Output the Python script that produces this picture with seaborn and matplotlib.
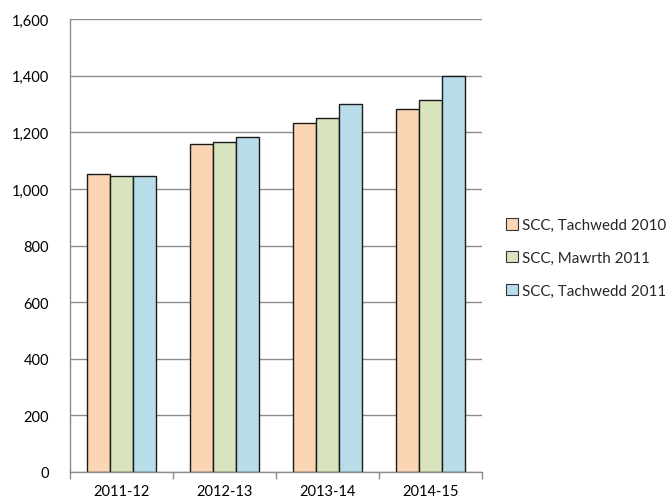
import matplotlib
matplotlib.use("Agg")
import matplotlib.pyplot as plt
import seaborn as sns
import pandas as pd
from matplotlib.ticker import FuncFormatter, FixedLocator

categories = ["2011-12", "2012-13", "2013-14", "2014-15"]
series_names = ["SCC, Tachwedd 2010", "SCC, Mawrth 2011", "SCC, Tachwedd 2011"]
scc_nov2010 = [1052, 1159, 1233, 1283]
scc_mar2011 = [1047, 1166, 1250, 1314]
scc_nov2011 = [1044, 1183, 1300, 1398]
colors = ["#FCD5B5", "#D7E4BD", "#B7DEE8"]

rows = []
for name, vals in zip(series_names, [scc_nov2010, scc_mar2011, scc_nov2011]):
    for c, v in zip(categories, vals):
        rows.append({"year": c, "series": name, "value": v})
df = pd.DataFrame(rows)

sns.set_theme(style="white")
plt.rcParams["font.family"] = ["Lato", "DejaVu Sans"]

fig = plt.figure(figsize=(6.7, 5.02), dpi=100)
ax = fig.add_axes([0.1045, 0.0578, 0.6145, 0.9022])

sns.barplot(data=df, x="year", y="value", hue="series", order=categories,
            hue_order=series_names, palette=colors, width=0.67, gap=0,
            edgecolor="#1a1a1a", linewidth=1.0, saturation=1, ax=ax, errorbar=None)

ax.set_ylim(0, 1600)
ax.set_xlim(-0.5, 3.5)
ax.set_yticks(range(0, 1601, 200))
ax.yaxis.set_major_formatter(FuncFormatter(lambda v, p: f"{int(v):,}"))
ax.grid(axis="y", color="#8c8c8c", linewidth=1)
ax.set_axisbelow(True)
ax.set_xlabel("")
ax.set_ylabel("")
for s in ["top", "right"]:
    ax.spines[s].set_visible(False)
for s in ["left", "bottom"]:
    ax.spines[s].set_color("#8c8c8c")
    ax.spines[s].set_linewidth(1)
ax.tick_params(axis="y", which="major", length=6, color="#8c8c8c", width=1,
               labelsize=10.5, labelcolor="black", pad=9, direction="out")
ax.tick_params(axis="x", which="major", length=0, labelsize=10.5, labelcolor="black", pad=9)
ax.xaxis.set_minor_locator(FixedLocator([-0.5, 0.5, 1.5, 2.5, 3.5]))
ax.tick_params(axis="x", which="minor", length=5, color="#8c8c8c", width=1, direction="out", bottom=True)

leg = ax.legend(loc="center left", bbox_to_anchor=(1.045, 0.472), frameon=False,
                fontsize=10.9, handlelength=0.75, handleheight=0.75, handletextpad=0.3,
                labelspacing=1.25, borderaxespad=0)
for h in leg.legend_handles:
    h.set_edgecolor("#333333")
    h.set_linewidth(0.8)

fig.savefig("out.png", dpi=100)
